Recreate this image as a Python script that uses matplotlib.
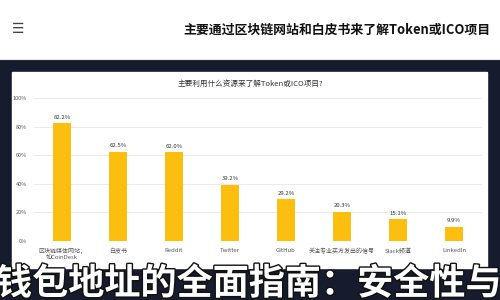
import matplotlib
matplotlib.use('Agg')
import matplotlib.pyplot as plt
import matplotlib.patheffects as pe
from matplotlib.patches import Rectangle

plt.rcParams['font.family'] = ['Noto Sans CJK SC', 'DejaVu Sans']

# data
categories = ['区块链媒体网站，\n如CoinDesk', '白皮书', 'Reddit', 'Twitter', 'GitHub',
              '关注专业买方发出的信号', 'Slack频道', 'LinkedIn']
values = [82.2, 62.5, 62.0, 39.2, 29.2, 20.3, 15.1, 9.9]
yticks = [0, 20, 40, 60, 80, 100]
chart_title = '主要利用什么资源来了解Token或ICO项目?'
page_title = '主要通过区块链网站和白皮书来了解Token或ICO项目'
banner = '钱包地址的全面指南：安全性与'

W, H = 500, 300
fig = plt.figure(figsize=(5, 3), dpi=100)

# background in pixel coords
bg = fig.add_axes([0, 0, 1, 1])
bg.set_xlim(0, W)
bg.set_ylim(H, 0)
bg.axis('off')
bg.add_patch(Rectangle((0, 0), W, 60, color='white'))
bg.add_patch(Rectangle((0, 60), W, 240, color='#161b2e'))
bg.add_patch(Rectangle((12, 72), 475, 196, color='white'))
bg.plot([0, W], [58.5, 58.5], color='#e8eaf0', lw=0.8)
bg.text(18, 29, '☰', fontsize=10, color='#444444', ha='center', va='center',
        family='DejaVu Sans')
bg.text(490, 30, page_title, fontsize=9.3, weight='bold', color='#111111',
        ha='right', va='center')
bg.text(250, 84, chart_title, fontsize=5.5, color='#333333', ha='center', va='center')

# chart
ax = fig.add_axes([34 / W, 1 - 241 / H, 448 / W, 143 / H])
x = range(len(categories))
bars = ax.bar(x, values, width=0.31, color='#fcbf10', zorder=3)
for xi, v in zip(x, values):
    ax.text(xi, v + 2.5, f'{v:.1f}%', ha='center', va='bottom', fontsize=4.3, color='#333333')
ax.set_xlim(-0.5, len(categories) - 0.5)
ax.set_ylim(0, 100)
ax.set_yticks(yticks)
ax.set_yticklabels([f'{t}%' for t in yticks], fontsize=4, color='#555555')
ax.set_xticks(list(x))
ax.set_xticklabels(categories, fontsize=4.3, color='#555555', linespacing=1.2)
ax.tick_params(length=0, pad=5)
ax.grid(axis='y', color='#e6e6e6', lw=0.6, zorder=0)
for s in ax.spines.values():
    s.set_visible(False)

# overlay banner text
ov = fig.add_axes([0, 0, 1, 1], facecolor='none')
ov.set_xlim(0, W)
ov.set_ylim(H, 0)
ov.axis('off')
ov.text(-4, 284, banner, fontsize=26, weight='heavy', color='white', ha='left', va='center',
        path_effects=[pe.withStroke(linewidth=2, foreground='#111111')])

fig.savefig('out.png', dpi=100)
